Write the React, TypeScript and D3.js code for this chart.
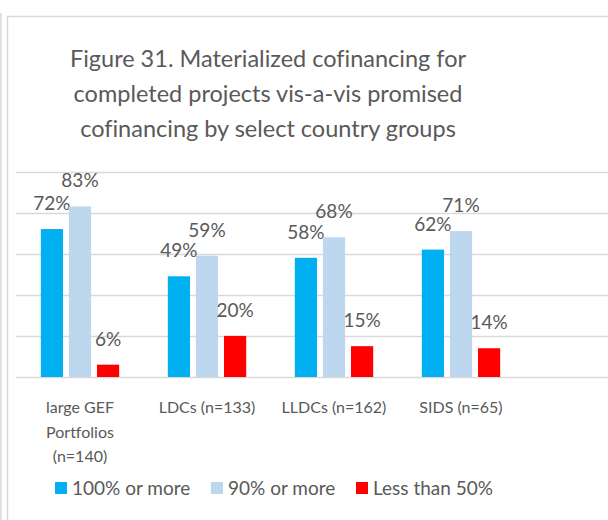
import React from 'react';
import * as d3 from 'd3';

const categories = ['large GEF Portfolios (n=140)', 'LDCs (n=133)', 'LLDCs (n=162)', 'SIDS (n=65)'];
const categoryLines = [['large GEF', 'Portfolios', '(n=140)'], ['LDCs (n=133)'], ['LLDCs (n=162)'], ['SIDS (n=65)']];
const seriesNames = ['100% or more', '90% or more', 'Less than 50%'];
const seriesColors = ['#00B0F0', '#BDD7EE', '#FF0000'];
const full = [0.72, 0.49, 0.58, 0.62];
const ninety = [0.83, 0.59, 0.68, 0.71];
const lessHalf = [0.06, 0.2, 0.15, 0.14];
const yTicks = [0, 0.2, 0.4, 0.6, 0.8, 1];
const titleLines = [
  'Figure 31. Materialized cofinancing for',
  'completed projects vis-a-vis promised',
  'cofinancing by select country groups',
];

const W = 608;
const H = 520;
const FONT = 'Lato, "Open Sans", sans-serif';
const TEXT = '#595959';
const GRID = '#D9D9D9';

export default function App() {
  const values = [full, ninety, lessHalf];

  const x = d3.scaleBand<string>()
    .domain(categories)
    .range([16.5, 524.5])
    .paddingInner(0.383)
    .paddingOuter(0.1915);

  const xs = d3.scaleBand<string>()
    .domain(seriesNames)
    .range([0, x.bandwidth()])
    .paddingInner(0.21);

  const y = d3.scaleLinear().domain([0, 1]).range([377, 171.5]);
  const fmt = d3.format('.0%');

  return (
    <svg width={W} height={H} style={{ position: 'absolute', left: 0, top: 0, background: '#fff', fontVariantLigatures: 'none', fontFeatureSettings: '"liga" 0, "clig" 0' }}>
      <rect x={0} y={0} width={W} height={H} fill="#fff" />
      {/* frame */}
      <line x1={1} x2={1} y1={13} y2={H} stroke={GRID} strokeWidth={1.5} />
      <path d={`M7.5,${H} V16.5 H${W}`} fill="none" stroke={GRID} strokeWidth={1.5} />

      {titleLines.map((t, i) => (
        <text key={i} x={268} y={67 + i * 35} textAnchor="middle" fontFamily={FONT} fontSize={23.5} fill={TEXT}>{t}</text>
      ))}

      {yTicks.map(t => (
        <line key={t} x1={16} x2={W} y1={Math.round(y(t)) + 0.5} y2={Math.round(y(t)) + 0.5} stroke={GRID} strokeWidth={1.3} />
      ))}

      {categories.map((c, ci) => (
        <g key={c} transform={`translate(${x(c)},0)`}>
          {seriesNames.map((s, si) => {
            const v = values[si][ci];
            const bx = xs(s)!;
            return (
              <g key={s}>
                <rect x={bx} y={y(v)} width={xs.bandwidth()} height={y(0) - y(v)} fill={seriesColors[si]} />
                <text x={bx + xs.bandwidth() / 2} y={y(v) - 19} textAnchor="middle" fontFamily={FONT} fontSize={19} fill={TEXT}>{fmt(v)}</text>
              </g>
            );
          })}
          {categoryLines[ci].map((l, li) => (
            <text key={li} x={x.bandwidth() / 2} y={413 + li * 24.5} textAnchor="middle" fontFamily={FONT} fontSize={16} fill={TEXT}>{l}</text>
          ))}
        </g>
      ))}

      {seriesNames.map((s, i) => {
        const lx = [55, 211, 356][i];
        return (
          <g key={s}>
            <rect x={lx} y={482} width={12} height={12} fill={seriesColors[i]} />
            <text x={lx + 17} y={495} fontFamily={FONT} fontSize={19} fill={TEXT}>{s}</text>
          </g>
        );
      })}
    </svg>
  );
}
